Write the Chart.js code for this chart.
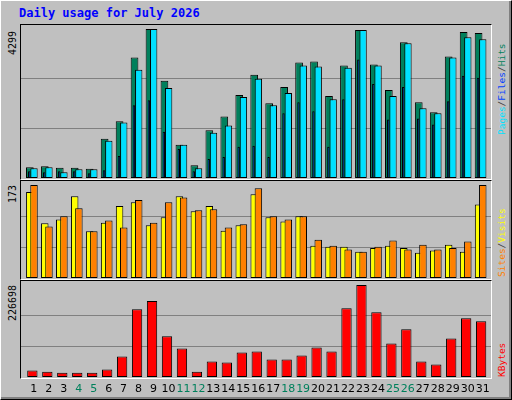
<!DOCTYPE html>
<html>
<head>
<meta charset="utf-8">
<script src="https://cdn.jsdelivr.net/npm/chart.js@4/dist/chart.umd.min.js"></script>
<style>
  body{ margin:0; background:#c0c0c0; }
  #frame{ position:relative; width:510px; height:398px; background:#c0c0c0; border-top:1px solid #fff; border-left:1px solid #fff; border-right:1px solid #000; border-bottom:1px solid #000; box-shadow: inset -2px -2px 0 #808080; font-family:"DejaVu Sans Mono", monospace; overflow:hidden; }
  .title{ position:absolute; left:18px; top:5px; color:#0000ff; font-weight:bold; font-size:12px; }
  .box{ position:absolute; left:19px; width:470px; border-top:1px solid #000; border-left:1px solid #000; border-right:1px solid #fff; border-bottom:1px solid #fff; }
  .wrap{ position:absolute; }
  .rot{ position:absolute; transform-origin:0 0; transform:rotate(-90deg); white-space:nowrap; font-size:9.5px; }
  .num{ font-size:10px; }
</style>
</head>
<body>
<div id="frame">
  <div class="title">Daily usage for July 2026</div>
  <div class="box" style="top:23px;height:154px"></div>
  <div class="box" style="top:179px;height:98px"></div>
  <div class="box" style="top:279px;height:97px"></div>

  <div class="wrap" style="left:20px;top:24px;width:470px;height:153px"><canvas id="c-top"></canvas></div>
  <div class="wrap" style="left:20px;top:180px;width:470px;height:97px"><canvas id="c-mid"></canvas></div>
  <div class="wrap" style="left:20px;top:280px;width:470px;height:116px"><canvas id="c-bot"></canvas></div>

  <div class="rot num" style="left:6px;top:54px;color:#000">4299</div>
  <div class="rot num" style="left:6px;top:202px;color:#000">173</div>
  <div class="rot num" style="left:6px;top:320px;color:#000">226698</div>

  <div class="rot" style="left:495px;top:134px"><span style="color:#00e0ff">Pages</span><span style="color:#404040">/</span><span style="color:#0040ff">Files</span><span style="color:#404040">/</span><span style="color:#00805c">Hits</span></div>
  <div class="rot" style="left:495px;top:276px"><span style="color:#ff8000">Sites</span><span style="color:#404040">/</span><span style="color:#ffff00">Visits</span></div>
  <div class="rot" style="left:495px;top:376px;color:#ff0000">KBytes</div>
</div>
<script>
const days = Array.from({length:31}, (_, i) => i + 1);
const weekend = [4,5,11,12,18,19,25,26];

const hits  = [313,342,293,293,264,1133,1641,3478,4299,2804,957,371,1378,1778,2394,2980,2159,2628,3332,3361,2364,3244,4270,3273,2540,3918,2189,1895,3508,4211,4182];
const files = [283,313,166,254,254,1075,1602,3126,4299,2599,957,283,1309,1514,2335,2863,2100,2452,3244,3214,2276,3185,4270,3244,2364,3889,2013,1866,3478,4064,4006];
const pages = [195,166,195,195,137,225,635,2100,2247,1338,840,195,547,606,899,928,606,1866,2189,1925,899,2276,3420,2716,1690,2628,1720,1544,2218,2950,2892];

const sites  = [160,102,109,152,87,103,134,141,98,113,152,124,134,88,98,156,113,105,115,60,58,58,49,56,60,56,47,51,62,49,137];
const visits = [173,96,115,130,87,107,94,145,103,141,150,126,128,94,100,167,115,109,115,71,60,53,49,58,70,53,62,53,56,68,173];

const kbytes = [15720,13240,10760,10760,10760,18200,50470,167130,186990,100110,70330,13240,38060,35580,60400,62880,43020,43020,52950,72810,62880,169620,226698,159690,82740,117490,38060,30610,95150,144790,137350];

const maxTop = 4299, maxMid = 173, maxBot = 226698;

function pts(arr){ return arr.map((v, i) => ({ x: days[i], y: v })); }

function xAxis(min, max){ return { type:'linear', display:false, min, max, offset:false }; }
function yAxis(top, refMax){
  return {
    min:0, max:top,
    border:{ display:false },
    ticks:{ display:false },
    grid:{ color:'#808080', lineWidth:1, drawTicks:false },
    afterBuildTicks: s => { s.ticks = [{ value: refMax/3 }, { value: refMax*2/3 }]; },
    afterFit: s => { s.width = 0; }
  };
}
// lower order = drawn on top
function bar(label, data, color, xID, pct, order){
  return { label, data: pts(data), backgroundColor: color, borderColor:'#000', borderWidth:1, borderSkipped:false, xAxisID:xID, grouped:false, categoryPercentage:1, barPercentage:pct, order };
}
const baseOpts = { responsive:true, maintainAspectRatio:false, animation:false, layout:{ padding:0 }, plugins:{ legend:{ display:false }, tooltip:{ enabled:false } } };

// top panel: hits / files / pages overlapping
new Chart(document.getElementById('c-top'), {
  type:'bar',
  data:{ datasets:[
    bar('Hits', hits, '#00805c', 'xH', 0.515, 3),
    bar('Files', files, '#00e0ff', 'xF', 0.49, 1),
    bar('Pages', pages, '#0040ff', 'xP', 0.16, 2)
  ]},
  options:{ ...baseOpts, scales:{ xH: xAxis(0.41, 31.83), xF: xAxis(0.13, 31.55), xP: xAxis(0.45, 31.87), y: yAxis(maxTop*152/148, maxTop) } }
});

// middle panel: sites / visits
new Chart(document.getElementById('c-mid'), {
  type:'bar',
  data:{ datasets:[
    bar('Sites', sites, '#ffff00', 'xS', 0.5, 2),
    bar('Visits', visits, '#ff8000', 'xV', 0.5, 1)
  ]},
  options:{ ...baseOpts, scales:{ xS: xAxis(0.41, 31.83), xV: xAxis(0.13, 31.55), y: yAxis(maxMid*96/92, maxMid) } }
});

// bottom panel: kbytes + day labels
const dayLabels = {
  id:'dayLabels',
  afterDraw(chart){
    const { ctx, chartArea } = chart;
    const xs = chart.scales.xK;
    ctx.save();
    ctx.font = '11px "DejaVu Sans", sans-serif';
    ctx.textAlign = 'center';
    ctx.textBaseline = 'middle';
    days.forEach(d => {
      ctx.fillStyle = weekend.includes(d) ? '#00805c' : '#000';
      ctx.fillText(String(d), xs.getPixelForValue(d) + 1.5, chartArea.bottom + 12);
    });
    ctx.restore();
  }
};
new Chart(document.getElementById('c-bot'), {
  type:'bar',
  data:{ datasets:[ bar('KBytes', kbytes, '#ff0000', 'xK', 0.69, 1) ]},
  options:{ ...baseOpts, layout:{ padding:{ bottom:20 } }, scales:{ xK: xAxis(0.24, 31.66), y: yAxis(maxBot*96/92, maxBot) } },
  plugins:[dayLabels]
});
</script>
</body>
</html>
